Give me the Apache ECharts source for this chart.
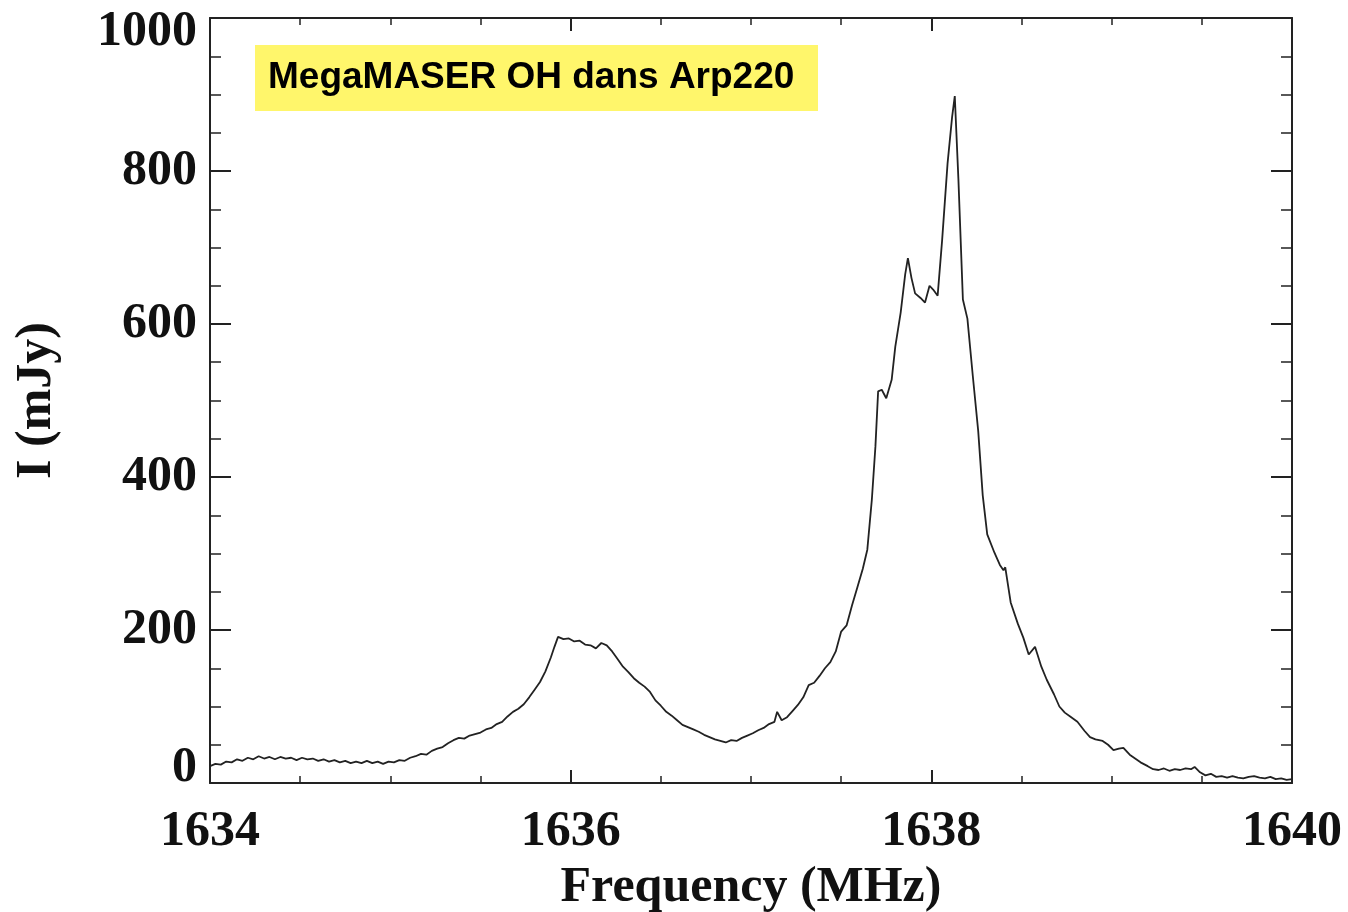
<!DOCTYPE html>
<html>
<head>
<meta charset="utf-8">
<script src="https://cdn.jsdelivr.net/npm/echarts@6/dist/echarts.min.js"></script>
<style>
html,body{margin:0;padding:0;background:#fff;}
#chart{width:1348px;height:912px;}
</style>
</head>
<body>
<div id="chart"></div>
<script>
// ---- Data ----
var titleText = 'MegaMASER OH dans Arp220';
var xAxisTitle = 'Frequency (MHz)';
var yAxisTitle = 'I (mJy)';
var xTicks = [1634, 1636, 1638, 1640];
var yTicks = [0, 200, 400, 600, 800, 1000];

var frequencyMHz = [
1634.00,1634.03,1634.06,1634.09,1634.12,1634.15,1634.18,1634.21,1634.24,1634.27,
1634.30,1634.33,1634.36,1634.39,1634.42,1634.45,1634.48,1634.51,1634.54,1634.57,
1634.60,1634.63,1634.66,1634.69,1634.72,1634.75,1634.78,1634.81,1634.84,1634.87,
1634.90,1634.93,1634.96,1634.99,1635.02,1635.05,1635.08,1635.11,1635.14,1635.17,
1635.20,1635.23,1635.26,1635.29,1635.32,1635.35,1635.38,1635.41,1635.44,1635.47,
1635.50,1635.53,1635.56,1635.59,1635.62,1635.65,1635.68,1635.71,1635.74,1635.77,
1635.80,1635.83,1635.86,1635.89,1635.91,1635.93,1635.96,1635.99,1636.02,1636.05,
1636.08,1636.11,1636.14,1636.17,1636.20,1636.23,1636.26,1636.29,1636.32,1636.35,
1636.38,1636.41,1636.44,1636.47,1636.50,1636.53,1636.56,1636.59,1636.62,1636.65,
1636.68,1636.71,1636.74,1636.77,1636.80,1636.83,1636.86,1636.89,1636.92,1636.95,
1636.98,1637.01,1637.04,1637.07,1637.10,1637.13,1637.145,1637.17,1637.20,1637.23,
1637.26,1637.29,1637.32,1637.35,1637.38,1637.41,1637.44,1637.47,1637.50,1637.53,
1637.56,1637.59,1637.62,1637.645,1637.67,1637.69,1637.705,1637.725,1637.75,1637.78,
1637.80,1637.83,1637.855,1637.87,1637.89,1637.91,1637.94,1637.965,1637.99,1638.01,
1638.035,1638.06,1638.09,1638.115,1638.13,1638.15,1638.175,1638.20,1638.23,1638.26,
1638.285,1638.31,1638.35,1638.38,1638.40,1638.41,1638.44,1638.48,1638.51,1638.54,
1638.575,1638.61,1638.64,1638.68,1638.71,1638.74,1638.77,1638.81,1638.85,1638.88,
1638.91,1638.95,1638.98,1639.01,1639.04,1639.065,1639.10,1639.13,1639.16,1639.20,
1639.23,1639.26,1639.29,1639.32,1639.35,1639.38,1639.41,1639.44,1639.46,1639.49,
1639.52,1639.55,1639.58,1639.61,1639.64,1639.67,1639.70,1639.73,1639.76,1639.79,
1639.82,1639.85,1639.88,1639.91,1639.94,1639.97,1640.00
];
var fluxMJy = [
22,25,24,28,27,31,29,33,31,35,
32,34,31,34,32,33,30,33,31,32,
29,31,28,30,27,29,26,28,26,29,
26,28,25,28,27,30,29,33,35,38,
37,42,45,47,52,56,59,58,62,64,
66,70,72,77,80,87,93,97,103,112,
122,132,146,164,178,191,188,189,185,186,
181,180,176,183,180,172,162,152,145,137,
131,126,119,108,101,93,88,82,76,73,
70,67,63,60,57,55,53,56,55,59,
62,65,69,72,77,80,93,82,86,94,
102,112,128,131,140,150,158,172,198,206,
232,256,280,305,370,440,512,514,503,527,
570,615,665,686,660,640,634,628,650,645,
637,710,810,870,898,790,632,607,532,460,
376,325,301,285,278,282,236,208,190,168,
178,152,135,116,100,92,87,80,68,60,
57,55,50,43,45,46,37,32,27,22,
18,17,19,16,18,17,19,18,21,14,
10,12,8,9,7,9,7,6,8,9,
7,6,8,5,6,4,5
];

var seriesData = frequencyMHz.map(function (f, i) { return [f, fluxMJy[i]]; });

var serif = '"Liberation Serif", "DejaVu Serif", serif';
var axisColor = '#222';

var chart = echarts.init(document.getElementById('chart'), null, {renderer: 'canvas'});

var baseX = {
  type: 'value', min: xTicks[0], max: xTicks[xTicks.length - 1], interval: 2,
  axisLine: {show: true, onZero: false, lineStyle: {color: axisColor, width: 2}},
  axisTick: {show: true, inside: true, length: 13, lineStyle: {color: axisColor, width: 2}},
  minorTick: {show: true, splitNumber: 4, length: 7, lineStyle: {color: axisColor, width: 1.5}},
  splitLine: {show: false}
};
var baseY = {
  type: 'value', min: yTicks[0], max: yTicks[yTicks.length - 1], interval: 200,
  axisLine: {show: true, onZero: false, lineStyle: {color: axisColor, width: 2}},
  axisTick: {show: true, inside: true, length: 21, lineStyle: {color: axisColor, width: 2}},
  minorTick: {show: true, splitNumber: 4, length: 11, lineStyle: {color: axisColor, width: 1.5}},
  splitLine: {show: false}
};

var option = {
  animation: false,
  backgroundColor: '#ffffff',
  grid: {left: 210, top: 18, width: 1082, height: 765, containLabel: false, outerBoundsMode: 'none'},
  xAxis: [
    Object.assign({}, baseX, {
      position: 'bottom',
      name: xAxisTitle, nameLocation: 'middle', nameGap: 80,
      nameTextStyle: {fontFamily: serif, fontWeight: 'bold', fontSize: 50, color: '#111'},
      axisLabel: {show: true, margin: 24, fontFamily: serif, fontWeight: 'bold', fontSize: 50, color: '#111',
        formatter: function (v) { return String(v); }}
    }),
    Object.assign({}, baseX, {position: 'top', axisLabel: {show: false}})
  ],
  yAxis: [
    Object.assign({}, baseY, {
      position: 'left',
      name: yAxisTitle, nameLocation: 'middle', nameGap: 148, nameRotate: 90,
      nameTextStyle: {fontFamily: serif, fontWeight: 'bold', fontSize: 50, color: '#111'},
      axisLabel: {
        show: true, margin: 13, fontFamily: serif, fontWeight: 'bold', fontSize: 50, color: '#111',
        formatter: function (v) {
          if (v === yTicks[0]) return '{lo|' + v + '}';
          if (v === yTicks[yTicks.length - 1]) return '{hi|' + v + '}';
          return String(v);
        },
        rich: {
          lo: {fontFamily: serif, fontWeight: 'bold', fontSize: 50, color: '#111', padding: [0, 0, 30, 0]},
          hi: {fontFamily: serif, fontWeight: 'bold', fontSize: 50, color: '#111', padding: [28, 0, 0, 0]}
        }
      }
    }),
    Object.assign({}, baseY, {position: 'right', axisLabel: {show: false}})
  ],
  series: [{
    type: 'line',
    data: seriesData,
    xAxisIndex: 0, yAxisIndex: 0,
    showSymbol: false,
    smooth: false,
    lineStyle: {color: '#222', width: 1.8},
    z: 3
  }],
  graphic: [{
    type: 'group',
    left: 255, top: 45,
    children: [
      {type: 'rect', shape: {x: 0, y: 0, width: 563, height: 66}, style: {fill: '#fff66b'}},
      {type: 'text', x: 13, y: 33, style: {
        text: titleText, fill: '#000',
        font: 'bold 37px "Liberation Sans", Arial, sans-serif',
        textVerticalAlign: 'middle', verticalAlign: 'middle'
      }}
    ]
  }]
};
chart.setOption(option);
</script>
</body>
</html>
